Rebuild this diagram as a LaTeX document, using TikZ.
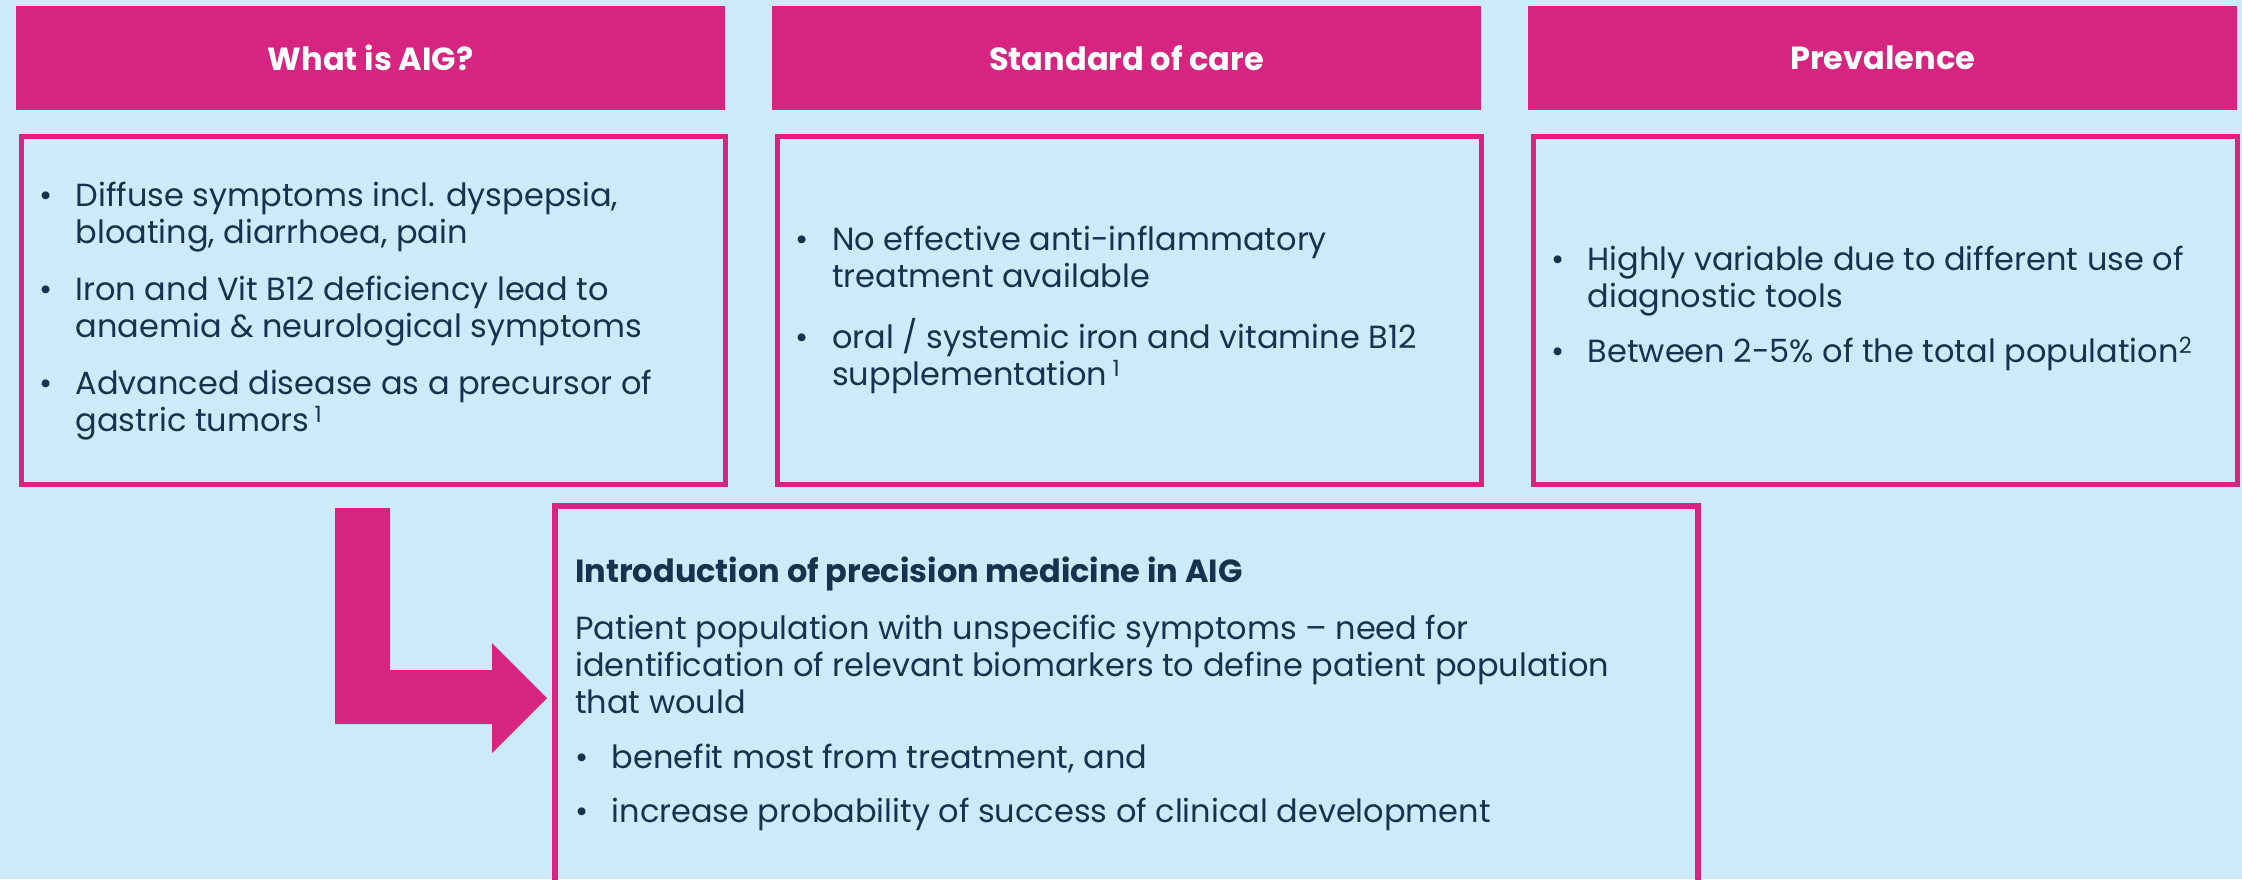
\documentclass[tikz,border=0pt]{standalone}
\usepackage{fontspec}
\setmainfont{Poppins}
\definecolor{mag}{HTML}{D62480}
\definecolor{bgblue}{HTML}{CDEAFA}
\definecolor{navy}{HTML}{17324D}
\newcommand\bul{\makebox[36.5pt][l]{\textbullet}}
\newcommand\ind{\hspace*{36.5pt}}
\begin{document}
\begin{tikzpicture}[x=1pt,y=-1pt,
  hdr/.style={fill=mag, minimum width=709pt, minimum height=104pt, anchor=north west, inner sep=0pt, text=white, font=\bfseries\fontsize{32}{37}\selectfont},
  cbox/.style={draw=mag, line width=5pt, minimum width=704pt, minimum height=348pt, anchor=north west, inner sep=0pt},
  btxt/.style={anchor=north west, inner sep=0pt, align=left, text=navy, font=\fontsize{32}{37}\selectfont}]
\fill[bgblue] (0,0) rectangle (2242,879);
\useasboundingbox (0,0) rectangle (2242,879);
\clip (0,0) rectangle (2242,879);

% headers
\node[hdr] (h1) at (16,6) {What is AIG?};
\node[hdr] (h2) at (772,6) {Standard of care};
\node[hdr] (h3) at (1528,6) {Prevalence};

% content boxes
\node[cbox] (b1) at (18.5,133.5) {};
\node[cbox] (b2) at (774.5,133.5) {};
\node[cbox] (b3) at (1530.5,133.5) {};

\node[btxt] (t1) at (39,180.1) {%
\strut\bul Diffuse symptoms incl. dyspepsia,\\
\strut\ind bloating, diarrhoea, pain\\[20pt]
\strut\bul Iron and Vit B12 deficiency lead to\\
\strut\ind anaemia \& neurological symptoms\\[20pt]
\strut\bul Advanced disease as a precursor of\\
\strut\ind gastric tumors\,\textsuperscript{1}};

\node[btxt] (t2) at (795.5,224.1) {%
\strut\bul No effective anti-inflammatory\\
\strut\ind treatment available\\[19pt]
\strut\bul oral / systemic iron and vitamine B12\\
\strut\ind supplementation\,\textsuperscript{1}};

\node[btxt] (t3) at (1551,244.1) {%
\strut\bul Highly variable due to different use of\\
\strut\ind diagnostic tools\\[18pt]
\strut\bul Between 2-5\% of the total population\textsuperscript{2}};

% bottom box
\draw[mag, line width=6pt] (555,950) -- (555,506) -- (1698,506) -- (1698,950);

\node[btxt] (t4) at (575,556.1) {%
\strut\textbf{Introduction of precision medicine in AIG}\\[20pt]
\strut Patient population with unspecific symptoms -- need for\\
\strut identification of relevant biomarkers to define patient population\\
\strut that would\\[18pt]
\strut\bul benefit most from treatment, and\\[17pt]
\strut\bul increase probability of success of clinical development};

% L-shaped arrow
\fill[mag] (335,508) -- (390,508) -- (390,670) -- (492,670) -- (492,643)
  -- (547,698) -- (492,753) -- (492,724) -- (335,724) -- cycle;
\end{tikzpicture}
\end{document}
